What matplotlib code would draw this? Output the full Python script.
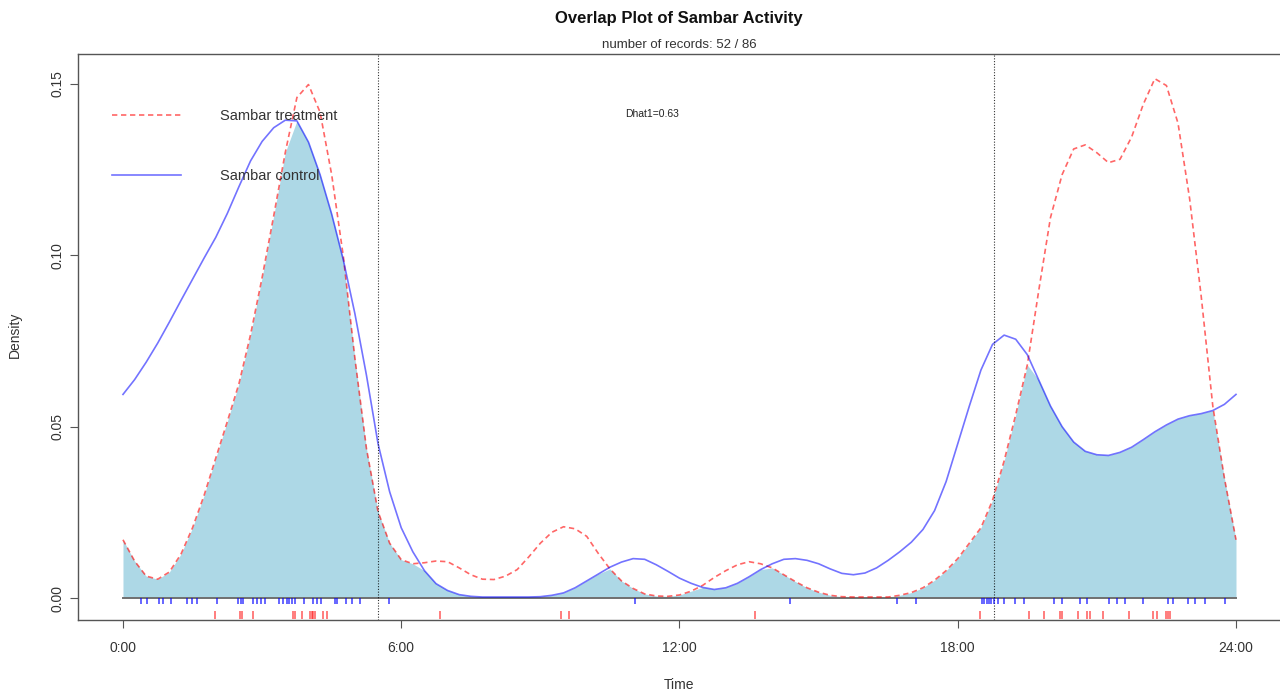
import matplotlib.pyplot as plt
import numpy as np

plt.rcParams['font.family'] = ['Liberation Sans', 'DejaVu Sans']

# kernel density curves, read every quarter hour (0:00 .. 24:00)
hours = np.arange(0, 24.01, 0.25)
treatment = [
    0.0170, 0.0108, 0.0064, 0.0055,
    0.0076, 0.0128, 0.0205, 0.0300,
    0.0408, 0.0515, 0.0625, 0.0768,
    0.0935, 0.1115, 0.1300, 0.1460,
    0.1498, 0.1417, 0.1235, 0.0998,
    0.0700, 0.0436, 0.0252, 0.0160,
    0.0112, 0.0100, 0.0103, 0.0108,
    0.0106, 0.0088, 0.0068, 0.0055,
    0.0054, 0.0064, 0.0083, 0.0120,
    0.0160, 0.0192, 0.0208, 0.0202,
    0.0180, 0.0130, 0.0085, 0.0050,
    0.0028, 0.0012, 0.0006, 0.0005,
    0.0009, 0.0020, 0.0037, 0.0060,
    0.0080, 0.0097, 0.0106, 0.0100,
    0.0088, 0.0068, 0.0048, 0.0030,
    0.0017, 0.0008, 0.0004, 0.0003,
    0.0003, 0.0003, 0.0003, 0.0008,
    0.0016, 0.0030, 0.0052, 0.0080,
    0.0115, 0.0160, 0.0205, 0.0285,
    0.0400, 0.0535, 0.0680, 0.0900,
    0.1110, 0.1235, 0.1310, 0.1322,
    0.1299, 0.1270, 0.1280, 0.1345,
    0.1440, 0.1515, 0.1495, 0.1385,
    0.1165, 0.0880, 0.0560, 0.0350,
    0.0170,
]
control = [
    0.0594, 0.0637, 0.0688, 0.0744,
    0.0805, 0.0868, 0.0930, 0.0992,
    0.1052, 0.1122, 0.1200, 0.1275,
    0.1332, 0.1372, 0.1394, 0.1392,
    0.1330, 0.1235, 0.1120, 0.0987,
    0.0830, 0.0650, 0.0450, 0.0310,
    0.0205, 0.0135, 0.0080, 0.0042,
    0.0022, 0.0010, 0.0005, 0.0003,
    0.0003, 0.0003, 0.0003, 0.0003,
    0.0004, 0.0008, 0.0015, 0.0030,
    0.0050, 0.0070, 0.0090, 0.0105,
    0.0115, 0.0113, 0.0097, 0.0078,
    0.0058, 0.0043, 0.0031, 0.0025,
    0.0030, 0.0043, 0.0062, 0.0083,
    0.0100, 0.0113, 0.0115, 0.0110,
    0.0100, 0.0085, 0.0072, 0.0068,
    0.0073, 0.0088, 0.0110, 0.0135,
    0.0163, 0.0200, 0.0255, 0.0340,
    0.0450, 0.0560, 0.0665, 0.0740,
    0.0767, 0.0755, 0.0710, 0.0635,
    0.0560, 0.0500, 0.0455, 0.0428,
    0.0418, 0.0416, 0.0425, 0.0440,
    0.0462, 0.0485, 0.0505, 0.0522,
    0.0532, 0.0538, 0.0547, 0.0565,
    0.0594,
]

# detection times (hours) for the rugs
treatment_times = [1.98, 2.52, 2.56, 2.81, 3.66, 3.71, 3.85, 4.03, 4.07, 4.10,
                   4.14, 4.31, 4.39, 6.84, 9.44, 9.62, 13.63, 18.48, 19.54,
                   19.87, 20.20, 20.25, 20.60, 20.79, 20.85, 21.14, 21.70,
                   22.20, 22.29, 22.50, 22.54, 22.58]
control_times = [0.38, 0.51, 0.78, 0.87, 1.03, 1.38, 1.48, 1.59, 2.02, 2.49,
                 2.54, 2.58, 2.81, 2.88, 2.98, 3.06, 3.37, 3.46, 3.53, 3.59,
                 3.64, 3.71, 3.90, 4.10, 4.18, 4.26, 4.57, 4.62, 4.81, 4.93,
                 5.11, 5.74, 11.04, 14.38, 16.70, 17.10, 18.52, 18.57, 18.63,
                 18.67, 18.72, 18.78, 18.87, 19.00, 19.23, 19.43, 20.08, 20.24,
                 20.64, 20.78, 21.27, 21.43, 21.61, 21.99, 22.53, 22.65, 22.97,
                 23.12, 23.33, 23.76]

sun_times = [5.50, 18.78]
tick_hours = [0, 6, 12, 18, 24]
tick_names = ['0:00', '6:00', '12:00', '18:00', '24:00']
y_ticks = [0.00, 0.05, 0.10, 0.15]
dhat = 0.63
n_treatment, n_control = 52, 86

fig = plt.figure(figsize=(12.8, 6.97), dpi=100)
ax = fig.add_axes([0.0613, 0.1105, 0.9391, 0.812])

overlap = np.minimum(treatment, control)
ax.fill_between(hours, 0, overlap, color='#ADD8E6', lw=0)
ax.plot([0, 24], [0, 0], color='#707070', lw=1.4)

ax.plot(hours, treatment, color='red', alpha=0.6, lw=1.2,
        ls=(0, (3.2, 2.2)), label='Sambar treatment')
ax.plot(hours, control, color='blue', alpha=0.55, lw=1.2,
        label='Sambar control')

for t in sun_times:
    ax.axvline(t, color='black', lw=0.8, ls=(0, (1, 1.5)), alpha=0.8)

ax.vlines(control_times, -0.0018, 0, color='blue', lw=1.3, alpha=0.65)
ax.vlines(treatment_times, -0.0061, -0.0038, color='red', lw=1.3, alpha=0.55)

ax.text(11.41, 0.1412, f'Dhat1={dhat}', ha='center', va='center',
        fontsize=7.5, color='#222222')

leg = ax.legend(loc='upper left', bbox_to_anchor=(0.028, 0.903),
                frameon=False, fontsize=10.5, handlelength=4.7,
                handletextpad=2.7, labelspacing=3.15, borderpad=0,
                borderaxespad=0)
for txt in leg.get_texts():
    txt.set_color('#333333')

ax.set_xlim(-0.96, 24.96)
ax.set_ylim(-0.0064, 0.1587)
ax.set_xticks(tick_hours)
ax.set_xticklabels(tick_names)
ax.set_yticks(y_ticks)
ax.set_yticklabels([f'{v:.2f}' for v in y_ticks], rotation=90, va='center')
ax.tick_params(axis='both', colors='#555555', labelcolor='#333333',
               labelsize=10, length=6)
ax.tick_params(axis='x', pad=9)
ax.tick_params(axis='y', pad=4)
for s in ax.spines.values():
    s.set_color('#555555')
    s.set_linewidth(1.0)

fig.text(0.5305, 0.973, 'Overlap Plot of Sambar Activity', ha='center',
         va='center', fontsize=12, fontweight='bold', color='#111111')
fig.text(0.5305, 0.935, f'number of records: {n_treatment} / {n_control}',
         ha='center', va='center', fontsize=9.5, color='#333333')
fig.text(0.5305, 0.017, 'Time', ha='center', va='center', fontsize=10,
         color='#333333')
fig.text(0.012, 0.519, 'Density', ha='center', va='center', rotation=90,
         fontsize=10, color='#333333')

fig.savefig('out.png', dpi=100)
